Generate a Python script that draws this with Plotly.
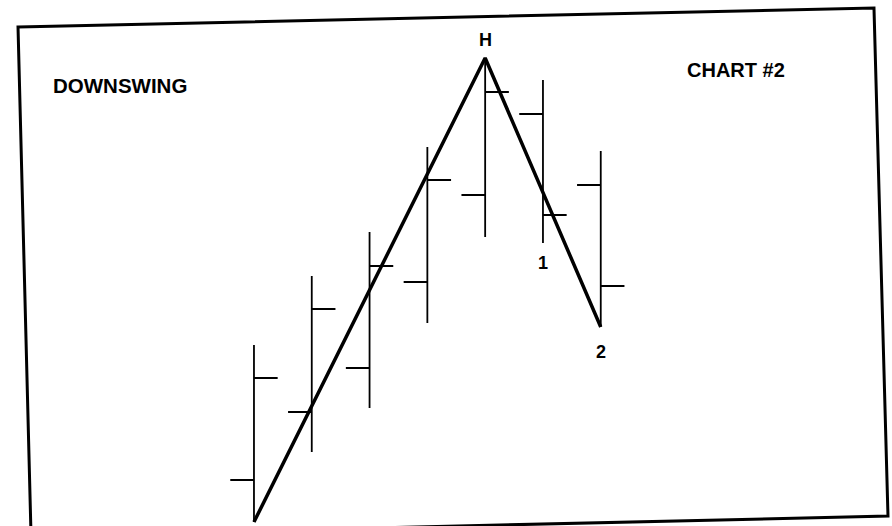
import plotly.graph_objects as go

# Bars of the downswing example (price units)
bars = [1, 2, 3, 4, 5, 6, 7]
opens = [5.0, 11.8, 16.2, 24.8, 33.5, 41.6, 34.5]
highs = [18.5, 25.4, 29.8, 38.3, 47.2, 45.0, 37.9]
lows = [0.8, 7.8, 12.2, 20.7, 29.3, 28.7, 20.3]
closes = [15.2, 22.1, 26.4, 35.0, 43.8, 31.5, 24.4]

# Swing line: low of bar 1 -> high H (bar 5) -> low 2 (bar 7)
swing_x = [1, 5, 7]
swing_y = [lows[0], highs[4], lows[6]]

# Point labels
label_text = ["H", "1", "2"]
label_x = [5, 6, 7]
label_y = [49.0, 26.7, 17.8]

FONT = "Liberation Sans, Arial, sans-serif"

fig = go.Figure()

fig.add_trace(go.Ohlc(
    x=bars, open=opens, high=highs, low=lows, close=closes,
    increasing=dict(line=dict(color="black", width=1.8)),
    decreasing=dict(line=dict(color="black", width=1.8)),
    tickwidth=0.41,
    showlegend=False,
    hoverinfo="skip",
))

fig.add_trace(go.Scatter(
    x=swing_x, y=swing_y, mode="lines",
    line=dict(color="black", width=3.5),
    showlegend=False, hoverinfo="skip",
))

for t, x, y in zip(label_text, label_x, label_y):
    fig.add_annotation(x=x, y=y, xref="x", yref="y", text="<b>%s</b>" % t,
                       showarrow=False, font=dict(family=FONT, size=18, color="black"))

fig.add_annotation(x=0.134, y=0.838, xref="paper", yref="paper", text="<b>DOWNSWING</b>",
                   xanchor="center", yanchor="middle",
                   showarrow=False, font=dict(family=FONT, size=20.5, color="black"))
fig.add_annotation(x=0.825, y=0.867, xref="paper", yref="paper", text="<b>CHART #2</b>",
                   xanchor="center", yanchor="middle",
                   showarrow=False, font=dict(family=FONT, size=20, color="black"))

# slightly tilted frame, as in the scanned original
W, H = 892, 526
corners = [(18, 27), (874, 8), (888, 516), (31, 536)]
path = "M " + " L ".join("%.4f,%.4f" % (cx / W, 1 - cy / H) for cx, cy in corners) + " Z"
fig.add_shape(type="path", path=path, xref="paper", yref="paper",
              line=dict(color="black", width=3))

fig.update_layout(
    width=W, height=H,
    margin=dict(l=0, r=0, t=0, b=0),
    paper_bgcolor="white", plot_bgcolor="white",
    xaxis=dict(range=[-3.394, 12.039], visible=False, rangeslider=dict(visible=False)),
    yaxis=dict(range=[0.4, 53.0], visible=False),
)

# drop the default page margin so the figure sits at the window corner
fig.write_html("out.html", config={"displayModeBar": False},
               post_script="document.body.style.margin='0';")
